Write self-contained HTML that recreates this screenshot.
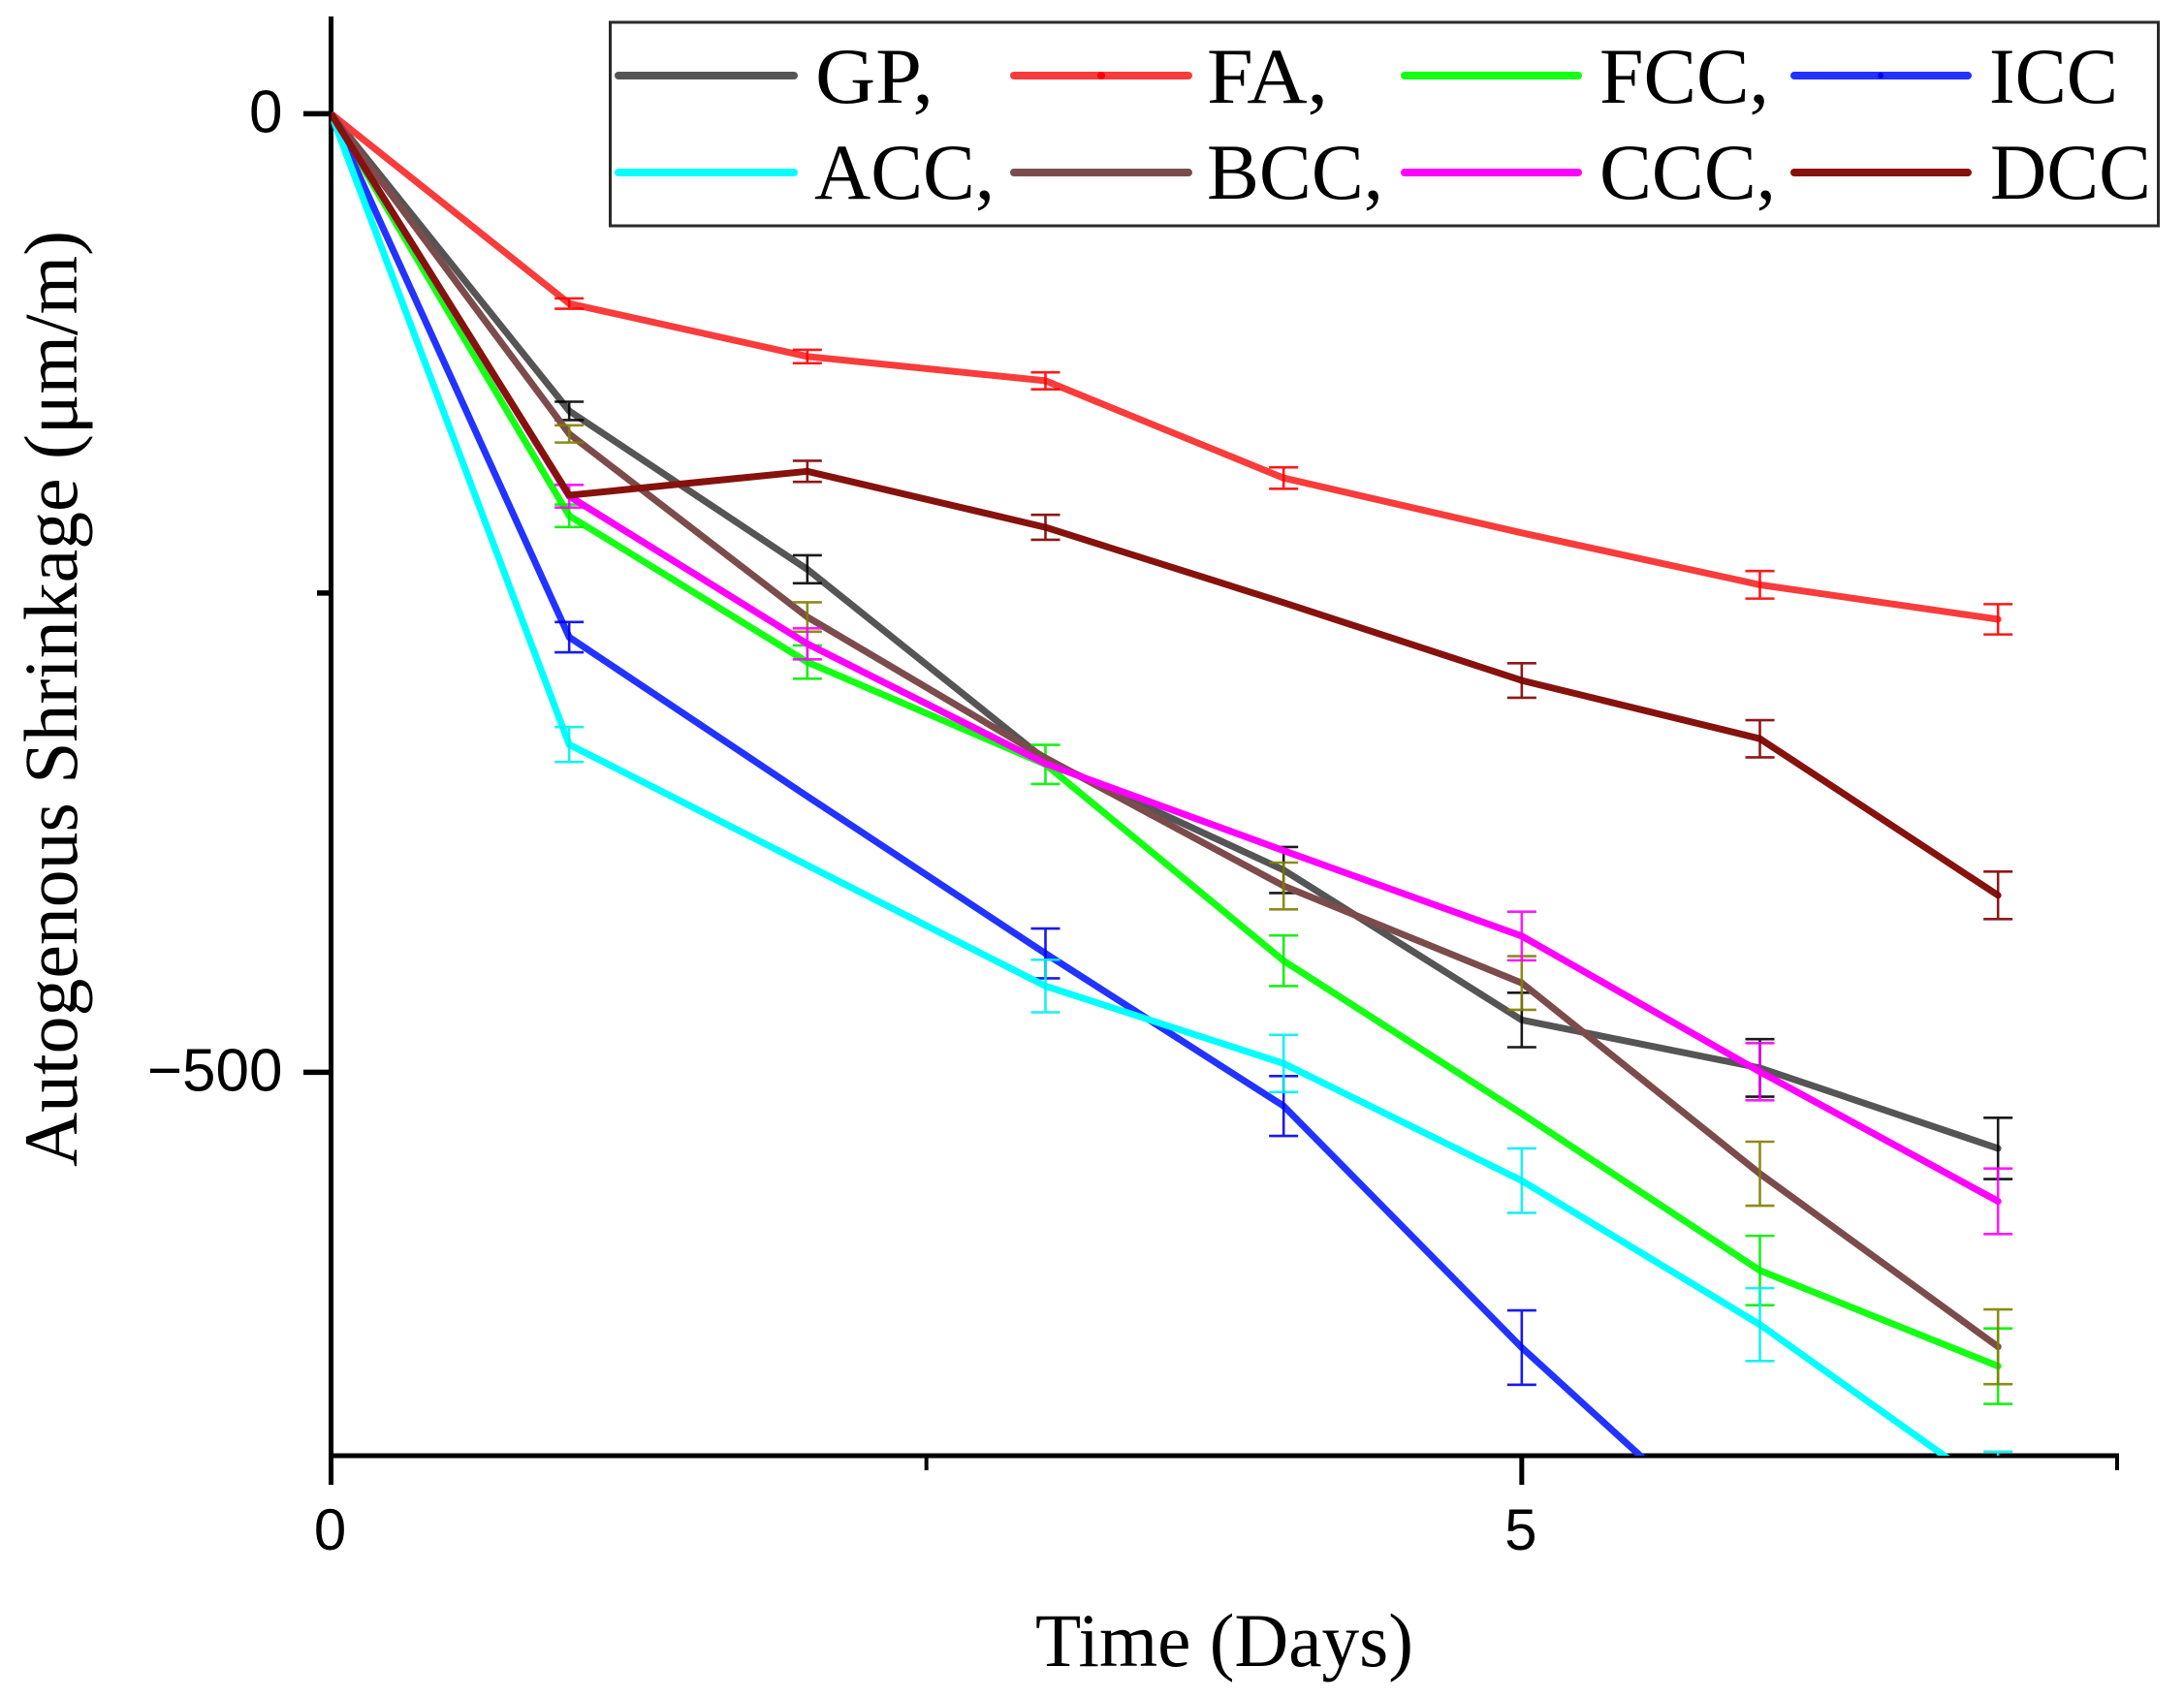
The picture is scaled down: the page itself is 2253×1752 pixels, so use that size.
<!DOCTYPE html>
<html lang="en">
<head>
<meta charset="utf-8">
<title>Autogenous Shrinkage vs Time</title>
<style>
html,body{margin:0;padding:0;background:#fff;}
body{width:2253px;height:1752px;overflow:hidden;}
svg{display:block;}
.serif{font-family:"Liberation Serif","Times New Roman",serif;fill:#000;}
.sans{font-family:"Liberation Sans",Arial,sans-serif;fill:#000;}
</style>
</head>
<body>
<svg id="chart" xmlns="http://www.w3.org/2000/svg" width="2253" height="1752" viewBox="0 0 2253 1752">
  <rect x="0" y="0" width="2253" height="1752" fill="#ffffff"/>
  <defs>
    <clipPath id="plot-clip"><rect x="341.5" y="0" width="1860" height="1502"/></clipPath>
  </defs>
  <g id="axis-layer"></g>
  <g id="series-layer" clip-path="url(#plot-clip)"></g>
  <text class="serif" font-size="78" text-anchor="middle" textLength="966" lengthAdjust="spacingAndGlyphs" transform="translate(79 721) rotate(-90)">Autogenous Shrinkage (μm/m)</text>
  <text class="serif" font-size="78" x="1068" y="1719" textLength="390" lengthAdjust="spacingAndGlyphs">Time (Days)</text>
  <g>
    <rect x="629.5" y="23" width="1597" height="210" fill="#ffffff" stroke="#2a2a2a" stroke-width="3"/>
    <g>
      <line x1="638" y1="78" x2="819" y2="78" stroke="#555555" stroke-width="8" stroke-linecap="round"/>
      <text class="serif" font-size="82" x="841" y="106" textLength="122" lengthAdjust="spacingAndGlyphs">GP,</text>
    </g>
    <g>
      <line x1="1046" y1="78" x2="1226" y2="78" stroke="#f83c3c" stroke-width="8" stroke-linecap="round"/>
      <circle cx="1136" cy="78" r="4" fill="#ff0000"/>
      <text class="serif" font-size="82" x="1245" y="106" textLength="125" lengthAdjust="spacingAndGlyphs">FA,</text>
    </g>
    <g>
      <line x1="1449" y1="78" x2="1628" y2="78" stroke="#14ff14" stroke-width="8" stroke-linecap="round"/>
      <text class="serif" font-size="82" x="1650" y="106" textLength="175" lengthAdjust="spacingAndGlyphs">FCC,</text>
    </g>
    <g>
      <line x1="1851" y1="78" x2="2030" y2="78" stroke="#2233ff" stroke-width="8" stroke-linecap="round"/>
      <circle cx="1940" cy="78" r="3" fill="#0000ee"/>
      <text class="serif" font-size="82" x="2052" y="106" textLength="133" lengthAdjust="spacingAndGlyphs">ICC</text>
    </g>
    <g>
      <line x1="638" y1="178" x2="819" y2="178" stroke="#00ffff" stroke-width="8" stroke-linecap="round"/>
      <text class="serif" font-size="82" x="840" y="205" textLength="186" lengthAdjust="spacingAndGlyphs">ACC,</text>
    </g>
    <g>
      <line x1="1046" y1="178" x2="1226" y2="178" stroke="#7c4c4c" stroke-width="8" stroke-linecap="round"/>
      <text class="serif" font-size="82" x="1245" y="205" textLength="182" lengthAdjust="spacingAndGlyphs">BCC,</text>
    </g>
    <g>
      <line x1="1449" y1="178" x2="1628" y2="178" stroke="#ff00ff" stroke-width="8" stroke-linecap="round"/>
      <text class="serif" font-size="82" x="1650" y="205" textLength="182" lengthAdjust="spacingAndGlyphs">CCC,</text>
    </g>
    <g>
      <line x1="1851" y1="178" x2="2030" y2="178" stroke="#86120e" stroke-width="8" stroke-linecap="round"/>
      <text class="serif" font-size="82" x="2053" y="205" textLength="166" lengthAdjust="spacingAndGlyphs">DCC</text>
    </g>
  </g>
</svg>
<script>
const days = [0, 1, 2, 3, 4, 5, 6, 7];
const gpValues  = [0, -155, -237.6, -337, -394.5, -472.7, -497.7, -539.7];
const gpErrors  = [null, 4.8, 7.3, null, 12, 14.2, 15, 16];
const faValues  = [0, -99, -126.6, -139.3, -190, -218.6, -245.7, -263.7];
const faErrors  = [null, 2.7, 3.5, 4.4, 5.6, null, 7.2, 7.9];
const fccValues = [0, -209.7, -286, -339.4, -441.8, -521.6, -603.4, -653.3];
const fccErrors = [null, 5.9, 8.7, 10.2, 13.2, null, 18.1, 19.7];
const iccValues = [0, -273, -356, -438, -517.6, -643.6, -757, -815];
const iccErrors = [null, 7.9, null, 13, 15.6, 19.4, null, null];
const accValues = [0, -329, -392, -455, -495.4, -556.5, -631.6, -720];
const accErrors = [null, 9.1, null, 13.7, 14.9, 16.8, 19, 22.1];
const bccValues = [0, -167, -262.5, -336, -402.8, -453.4, -552.9, -643.2];
const bccErrors = [null, 4.5, 7.7, null, 12.2, 14, 16.7, 19.5];
const cccValues = [0, -199.5, -276.5, -339, -384.4, -428.9, -499.7, -567.3];
const cccErrors = [null, 5.9, 8.1, null, null, 12.7, 14.9, 17.1];
const dccValues = [0, -199, -186.5, -215.7, -255, -295.6, -326, -407.7];
const dccErrors = [null, null, 5.5, 6.5, null, 9, 9.7, 12.4];
const xMajorTicks = [0, 5];
const xMinorTicks = [2.5, 7.5];
const yMajorTicks = [0, -500];
const yMinorTicks = [-250];
const xTickLabels = ['0', '5'];
const yTickLabels = ['0', '\u2212500'];

const X_MIN = 0, X_MAX = 7.5, Y_BOTTOM = -700, Y_TOP = 0;
const xScale = v => 341.5 + (v - X_MIN) / (X_MAX - X_MIN) * (2184 - 341.5);
const yScale = v => 1502 + (v - Y_BOTTOM) / (Y_TOP - Y_BOTTOM) * (117.4 - 1502);
const NS = 'http://www.w3.org/2000/svg';
const seriesLayer = document.getElementById('series-layer');
const axisLayer = document.getElementById('axis-layer');

function make(tag, attrs, parent) {
  const el = document.createElementNS(NS, tag);
  Object.keys(attrs).forEach(k => el.setAttribute(k, attrs[k]));
  parent.appendChild(el);
  return el;
}

function drawSeries(key, values, errors, lineColor, errorColor) {
  const g = make('g', {}, seriesLayer);
  
  
  const pts = days.map((d, i) => xScale(d).toFixed(1) + ',' + yScale(values[i]).toFixed(1)).join(' ');
  const line = make('polyline', {points: pts, fill: 'none', stroke: lineColor, 'stroke-width': 7, 'stroke-linejoin': 'round'}, g);
  
  
  days.forEach((d, i) => {
    if (errors[i] === null) return;
    const px = xScale(d), py = yScale(values[i]);
    const dot = make('circle', {cx: px, cy: py, r: 3.5, fill: lineColor}, g);
    
    
    const top = yScale(values[i] + errors[i]), bot = yScale(values[i] - errors[i]);
    const bar = make('path', {
      d: 'M' + px + ' ' + top + 'V' + bot + 'M' + (px - 15) + ' ' + top + 'H' + (px + 15) + 'M' + (px - 15) + ' ' + bot + 'H' + (px + 15),
      fill: 'none', stroke: errorColor, 'stroke-width': 2.6, 'stroke-opacity': 0.9
    }, g);
    
    
  });
}

drawSeries('gp', gpValues, gpErrors, '#555555', '#000000');
drawSeries('fa', faValues, faErrors, '#f83c3c', '#ff0000');
drawSeries('fcc', fccValues, fccErrors, '#14ff14', '#00ee00');
drawSeries('icc', iccValues, iccErrors, '#2233ff', '#0000ee');
drawSeries('acc', accValues, accErrors, '#00ffff', '#00f0f0');
drawSeries('bcc', bccValues, bccErrors, '#7c4c4c', '#808000');
drawSeries('ccc', cccValues, cccErrors, '#ff00ff', '#ff00ff');
drawSeries('dcc', dccValues, dccErrors, '#86120e', '#800000');

const yAxisLine = make('line', {x1: 341.5, y1: 17, x2: 341.5, y2: 1532, stroke: '#000', 'stroke-width': 5}, axisLayer);


const xAxisLine = make('line', {x1: 341.5, y1: 1502, x2: 2186, y2: 1502, stroke: '#000', 'stroke-width': 5}, axisLayer);



xMajorTicks.forEach((v, i) => {
  if (v !== 0) {
    const t = make('line', {x1: xScale(v), y1: 1502, x2: xScale(v), y2: 1532, stroke: '#000', 'stroke-width': 5}, axisLayer);
    
    
  }
  const label = make('text', {x: xScale(v) - 1, y: 1599, 'text-anchor': 'middle', 'font-size': 60, class: 'sans'}, axisLayer);
  label.textContent = xTickLabels[i];
  
  
});
xMinorTicks.forEach(v => {
  const t = make('line', {x1: xScale(v), y1: 1502, x2: xScale(v), y2: 1517, stroke: '#000', 'stroke-width': 4}, axisLayer);
  
  
});
yMajorTicks.forEach((v, i) => {
  const t = make('line', {x1: 313, y1: yScale(v), x2: 341.5, y2: yScale(v), stroke: '#000', 'stroke-width': 5.5}, axisLayer);
  
  
  const label = make('text', {x: 291.5, y: yScale(v) + 19, 'text-anchor': 'end', 'font-size': 62, class: 'sans'}, axisLayer);
  label.textContent = yTickLabels[i];
  
  
});
yMinorTicks.forEach(v => {
  const t = make('line', {x1: 327, y1: yScale(v), x2: 341.5, y2: yScale(v), stroke: '#000', 'stroke-width': 5.5}, axisLayer);
  
  
});
</script>
</body>
</html>
